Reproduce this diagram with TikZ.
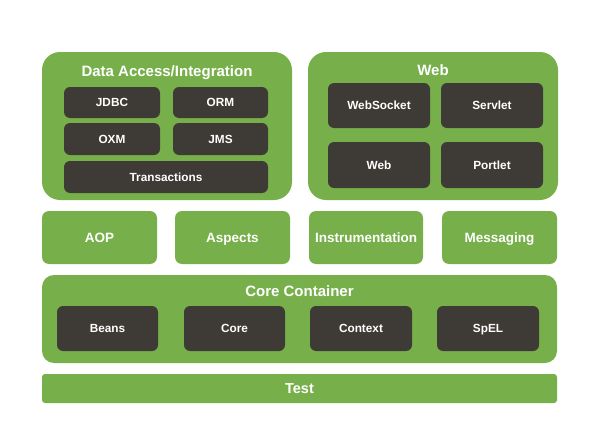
\documentclass[tikz,border=0pt]{standalone}
\usepackage{fontspec}
\setmainfont{Liberation Sans}
\definecolor{sgreen}{HTML}{77B04A}
\definecolor{sdark}{HTML}{3E3B37}
\begin{document}
\begin{tikzpicture}[x=1pt,y=1pt,
  greenbig/.style={fill=sgreen, draw=none, rounded corners=18pt, inner sep=0pt, outer sep=0pt},
  greenmid/.style={fill=sgreen, draw=none, rounded corners=7pt, inner sep=0pt, outer sep=0pt, text=white, font=\fontsize{13.5}{16}\selectfont\bfseries, text height=9.7pt, text depth=0pt},
  darkbox/.style={fill=sdark, draw=none, rounded corners=6pt, inner sep=0pt, outer sep=0pt, text=white, font=\fontsize{11.8}{14}\selectfont\bfseries, text height=8.5pt, text depth=0pt},
  titletext/.style={text=white, inner sep=0pt, font=\fontsize{15}{18}\selectfont\bfseries, text height=10.8pt, text depth=0pt}]
\useasboundingbox[fill=white] (0,0) rectangle (606,-439);
% Data Access/Integration
\node[greenbig, minimum width=250pt, minimum height=148pt] (da) at (167,-126) {};
\node[titletext] (datitle) at (167,-71) {Data Access/Integration};
\node[darkbox, minimum width=96pt, minimum height=31pt] (jdbc) at (112,-102.5) {JDBC};
\node[darkbox, minimum width=95pt, minimum height=31pt] (orm) at (220.5,-102.5) {ORM};
\node[darkbox, minimum width=96pt, minimum height=32pt] (oxm) at (112,-139) {OXM};
\node[darkbox, minimum width=95pt, minimum height=32pt] (jms) at (220.5,-139) {JMS};
\node[darkbox, minimum width=204pt, minimum height=32pt] (trans) at (166,-177) {Transactions};
% Web
\node[greenbig, minimum width=250pt, minimum height=148pt] (web) at (433,-126) {};
\node[titletext] (webtitle) at (433,-70) {Web};
\node[darkbox, minimum width=102pt, minimum height=45pt] (websocket) at (379,-105.5) {WebSocket};
\node[darkbox, minimum width=102pt, minimum height=45pt] (servlet) at (492,-105.5) {Servlet};
\node[darkbox, minimum width=102pt, minimum height=46pt] (webm) at (379,-165) {Web};
\node[darkbox, minimum width=102pt, minimum height=46pt] (portlet) at (492,-165) {Portlet};
% middle row
\node[greenmid, minimum width=115pt, minimum height=53pt] (aop) at (99.5,-237.5) {AOP};
\node[greenmid, minimum width=115pt, minimum height=53pt] (aspects) at (232.5,-237.5) {Aspects};
\node[greenmid, minimum width=114pt, minimum height=53pt] (instr) at (366,-237.5) {Instrumentation};
\node[greenmid, minimum width=115pt, minimum height=53pt] (msg) at (499.5,-237.5) {Messaging};
% Core Container
\node[greenbig, rounded corners=12pt, minimum width=515pt, minimum height=88pt] (cc) at (299.5,-319) {};
\node[titletext] (cctitle) at (299.5,-291) {Core Container};
\node[darkbox, minimum width=101pt, minimum height=45pt] (beans) at (107.5,-328.5) {Beans};
\node[darkbox, minimum width=101pt, minimum height=45pt] (core) at (234.5,-328.5) {Core};
\node[darkbox, minimum width=102pt, minimum height=45pt] (context) at (361,-328.5) {Context};
\node[darkbox, minimum width=102pt, minimum height=45pt] (spel) at (488,-328.5) {SpEL};
% Test
\node[greenmid, rounded corners=3pt, font=\fontsize{14.5}{17}\selectfont\bfseries, text height=10.4pt, minimum width=515pt, minimum height=29pt] (test) at (299.5,-388.5) {Test};
\end{tikzpicture}
\end{document}
